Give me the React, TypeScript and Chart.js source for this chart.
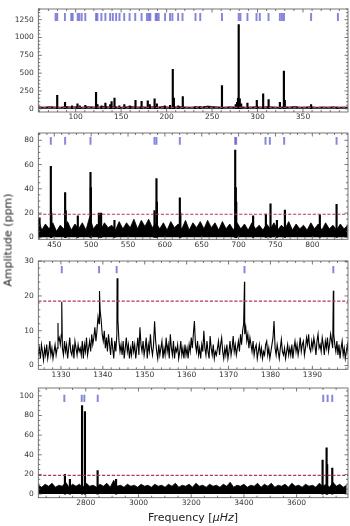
import React, { useEffect, useRef } from 'react';
import { Chart, registerables } from 'chart.js';

Chart.register(...registerables);

// ---------------- Panel 1 (60-400 µHz) ----------------
const P1_XTICKS = [100, 150, 200, 250, 300, 350];
const P1_YTICKS = [0, 250, 500, 750, 1000, 1250];
const P1_PEAKS: [number, number][] = [
  [79.7, 190], [88.3, 90], [96, 40], [102, 70], [104.5, 40], [110.6, 50], [122.4, 232], [124, 60],
  [128.5, 40], [132.7, 80], [138, 60], [139.5, 100], [142.7, 150], [148, 40], [153.5, 60], [159.5, 40],
  [165.8, 120], [172.5, 105], [179.3, 110], [181.5, 60], [186.8, 140], [189.3, 70], [198, 40], [203.8, 50],
  [206.8, 555], [208, 150], [212.7, 40], [217.8, 172], [231.5, 30], [237, 30], [260.9, 326],
  [276, 60], [277.5, 90], [278.5, 150], [279.3, 1180], [280.5, 140], [282, 70], [288.9, 80],
  [299.2, 120], [306.2, 210], [312.2, 130], [324.6, 90], [329, 528], [330, 120], [358.9, 60], [388, 25],
];
const P1_NOISE_START = 59;
const P1_NOISE_STEP = 6;
const P1_NOISE = [
  28, 22, 30, 25, 20, 32, 24, 27, 21, 30, 26, 22, 35, 24, 28, 20, 26, 31, 23, 27,
  22, 29, 25, 33, 21, 26, 30, 24, 22, 28, 25, 38, 30, 26, 22, 27, 24, 29, 21, 25,
  28, 23, 30, 26, 22, 27, 24, 31, 22, 25, 28, 20, 26, 23, 27, 21, 24, 22,
];
const P1_MARKERS = [
  77.9, 79.7, 88.2, 95.2, 96.7, 102.2, 104.0, 106.6, 110.6, 122.4, 123.9, 128.3, 132.7, 137.9,
  140.9, 144.5, 148.2, 153.4, 159.3, 165.5, 172.5, 178.4, 180.6, 182.1, 188.0, 189.4, 191.3,
  198.3, 203.8, 206.4, 212.7, 217.5, 231.8, 237.0, 260.9, 279.3, 281.2, 288.9, 298.9, 302.5,
  312.1, 324.6, 326.9, 329.1, 358.9, 388.4,
];
const P1_MARK_SPAN: [number, number] = [1237, 1338];
const P1_THRESHOLD = 20;

// ---------------- Panel 2 (430-850 µHz) ----------------
const P2_XTICKS = [450, 500, 550, 600, 650, 700, 750, 800];
const P2_YTICKS = [0, 20, 40, 60, 80];
const P2_PEAKS: [number, number][] = [
  [430, 16], [445.3, 58.6], [446, 20], [464.7, 36.8], [465.5, 22], [481.9, 17.8], [499.1, 53.6],
  [499.6, 41], [510.5, 20], [513.5, 20], [531.6, 14], [585.9, 22], [588.6, 48.5], [589.2, 29],
  [620.3, 32.5], [621, 20], [695.4, 72], [696.2, 41], [696.8, 29], [719.7, 17.8], [737, 19.2],
  [743.3, 27.7], [752, 14], [762.8, 22.4], [810.2, 18.6], [832.9, 27.2],
];
const P2_NOISE_START = 428;
const P2_NOISE_STEP = 5;
const P2_NOISE = [
  16, 6, 11, 7, 12, 5, 10, 7, 13, 6, 11,
  7, 12, 6, 17, 7, 11, 6, 12, 8, 10, 6,
  13, 7, 12, 8, 15, 7, 14, 9, 15, 8, 12,
  7, 12, 6, 13, 8, 11, 7, 14, 6, 12, 8,
  13, 7, 14, 8, 12, 6, 13, 7, 11, 6, 12,
  7, 11, 6, 12, 7, 10, 6, 11, 7, 12, 6,
  10, 7, 13, 6, 11, 7, 10, 6, 12, 7, 11,
  6, 12, 7, 10, 6, 11, 7, 10,
];
const P2_MARKERS = [445.3, 464.7, 499.1, 585.9, 588.6, 620.3, 695.4, 696.7, 736.5, 742.4, 761.8, 832.9];
const P2_MARK_SPAN: [number, number] = [76.5, 82.4];
const P2_THRESHOLD = 19;

// ---------------- Panel 3 (1325-1398 µHz) ----------------
const P3_XTICKS = [1330, 1340, 1350, 1360, 1370, 1380, 1390];
const P3_YTICKS = [0, 10, 20, 30];
const P3_NOISE_START = 1324.6;
const P3_NOISE_STEP = 0.25;
const P3_NOISE = [
  3, 5, 2, 6, 4, 1.5, 5, 3, 6, 2, 4, 7, 3, 5, 2, 4, 6, 3, 5, 7,
  8, 6, 9, 5, 3, 7, 4, 6, 2, 5, 8, 4, 3, 6, 2, 7, 5, 3, 6, 4,
  5, 3, 7, 2, 6, 4, 8, 3, 5, 7, 4, 9, 6, 8, 11, 7, 10, 14, 12, 16,
  13, 9, 7, 10, 5, 8, 4, 9, 6, 3, 8, 5, 2, 7, 4, 9, 13, 7, 4, 6,
  3, 7, 2, 5, 8, 4, 6, 2, 5, 3, 7, 4, 6, 2, 5, 8, 3, 11, 6, 4,
  7, 3, 5, 8, 2, 6, 4, 9, 5, 3, 6, 12.7, 7, 4, 2, 6, 3, 5, 7, 2,
  5, 3, 8, 4, 6, 2, 9, 5, 3, 7, 2, 5, 4, 6, 2, 4, 7, 3, 5, 2,
  6, 3, 5, 2, 6, 4, 8, 5, 9, 12.8, 6, 4, 7, 3, 5, 2, 6, 4, 10, 5,
  3, 7, 4, 2, 8.5, 5, 3, 6, 2, 4, 3, 5, 7, 3, 6, 8, 4, 2, 5, 3,
  6, 2, 4, 7, 3, 5, 8.5, 4, 6, 3, 5, 7, 4, 9, 6, 10, 12, 9, 11, 7,
  9, 5, 8, 6, 4, 7, 3, 5, 6, 2, 4, 6, 3, 5, 2, 4, 3, 6, 7, 3,
  5, 2, 4, 6, 8, 12.8, 5, 3, 6, 4, 2, 5, 7.5, 4, 3, 5, 2, 4, 6, 3,
  5, 3, 6, 2, 5, 7, 4, 6, 3, 5, 8, 4, 6, 7, 3, 5, 8, 6, 9, 5,
  4, 7, 5, 8, 6, 3, 7, 9, 5, 6, 4, 8, 6, 3, 7, 5, 8, 4, 6, 9,
  7, 5, 9, 6, 4, 7, 3, 6, 2, 5, 7, 3, 5, 2, 4, 6, 3, 5, 4, 3,
];
const P3_PEAKS: [number, number][] = [
  [1329.3, 12.2], [1330.2, 18.3], [1339.2, 21.4], [1343.4, 25.1], [1373.8, 24.1], [1395.0, 21.5],
];
const P3_MARKERS = [1330.2, 1339.1, 1343.3, 1373.8, 1395.0];
const P3_MARK_SPAN: [number, number] = [26.6, 28.5];
const P3_THRESHOLD = 18.5;

// ---------------- Panel 4 (2620-3795 µHz) ----------------
const P4_XTICKS = [2800, 3000, 3200, 3400, 3600];
const P4_YTICKS = [0, 20, 40, 60, 80, 100];
const P4_PEAKS: [number, number][] = [
  [2721, 20], [2740, 15], [2786, 90], [2797, 84], [2845, 24], [2915, 15],
  [3698.6, 34.5], [3713.8, 47], [3716, 30], [3735.3, 26.5],
];
const P4_NOISE_START = 2620;
const P4_NOISE_STEP = 13;
const P4_NOISE = [
  9, 7, 10, 8, 11, 7, 9, 8, 12, 7, 10,
  8, 10, 7, 11, 8, 9, 7, 10, 8, 11, 7,
  14, 8, 9, 7, 10, 8, 9, 7, 10, 8, 9,
  7, 10, 8, 9, 7, 10, 8, 11, 7, 9, 8,
  10, 7, 11, 8, 9, 7, 10, 8, 9, 7, 10,
  8, 12, 7, 9, 8, 10, 7, 9, 8, 11, 7,
  10, 8, 11, 7, 9, 8, 10, 7, 11, 8, 9,
  7, 10, 8, 9, 7, 11, 8, 10, 7, 12, 8,
  10, 7, 9,
];
const P4_MARKERS = [2718.8, 2784.8, 2794.7, 2845.5, 3701, 3717.7, 3735.2];
const P4_MARK_SPAN: [number, number] = [94.2, 100.8];
const P4_THRESHOLD = 19;

// ---------------- helpers ----------------
const FONT = 'DejaVu Sans';
const MARK_COLOR = 'rgba(95,95,205,0.75)';

const noiseDataset = (start: number, step: number, vals: number[]) => ({
  type: 'line',
  data: vals.map((v, i) => ({ x: start + i * step, y: v })),
  borderColor: '#000',
  backgroundColor: '#000',
  borderWidth: 0.8,
  fill: 'origin',
  pointRadius: 0,
  tension: 0,
  order: 3,
});

const peakDataset = (peaks: [number, number][]) => ({
  type: 'bar',
  data: peaks.map(([f, a]) => ({ x: f, y: a })),
  backgroundColor: '#000',
  barThickness: 1.5,
  grouped: false,
  order: 2,
});

const markerDataset = (freqs: number[], span: [number, number]) => ({
  type: 'bar',
  data: freqs.map((f) => ({ x: f, y: [span[0], span[1]] })),
  backgroundColor: MARK_COLOR,
  barThickness: 1.3,
  grouped: false,
  order: 1,
});

const decorPlugin = {
  id: 'decor',
  afterDatasetsDraw(chart: any, _args: any, o: any) {
    const { ctx, chartArea: a } = chart;
    const y = chart.scales.y.getPixelForValue(o.thr);
    ctx.save();
    ctx.beginPath();
    ctx.rect(a.left, a.top, a.right - a.left, a.bottom - a.top);
    ctx.clip();
    ctx.setLineDash([3.2, 1.7]);
    ctx.strokeStyle = '#b2385a';
    ctx.lineWidth = 1.1;
    ctx.beginPath();
    ctx.moveTo(a.left, y);
    ctx.lineTo(a.right, y);
    ctx.stroke();
    ctx.restore();
  },
  afterDraw(chart: any, _args: any, o: any) {
    const { ctx, chartArea: a, scales } = chart;
    const xs = scales.x;
    const ys = scales.y;
    ctx.save();
    ctx.strokeStyle = '#555';
    ctx.lineWidth = 0.8;
    ctx.strokeRect(a.left, a.top, a.right - a.left, a.bottom - a.top);
    ctx.beginPath();
    const tx = (v: number, len: number) => {
      const p = xs.getPixelForValue(v);
      ctx.moveTo(p, a.bottom);
      ctx.lineTo(p, a.bottom - len);
      ctx.moveTo(p, a.top);
      ctx.lineTo(p, a.top + len);
    };
    const ty = (v: number, len: number) => {
      const p = ys.getPixelForValue(v);
      ctx.moveTo(a.left, p);
      ctx.lineTo(a.left + len, p);
      ctx.moveTo(a.right, p);
      ctx.lineTo(a.right - len, p);
    };
    xs.ticks.forEach((t: any) => tx(t.value, 3.5));
    ys.ticks.forEach((t: any) => ty(t.value, 3.5));
    const minors = (scale: any, minor: number, major: number, fn: (v: number, l: number) => void) => {
      for (let k = Math.ceil(scale.min / minor); k * minor <= scale.max; k++) {
        const v = k * minor;
        const r = v / major;
        if (Math.abs(r - Math.round(r)) < 1e-6) continue;
        fn(v, 2);
      }
    };
    minors(xs, o.xMinor, o.xStep, tx);
    minors(ys, o.yMinor, o.yStep, ty);
    ctx.stroke();
    ctx.restore();
  },
};

type PanelCfg = {
  top: number;
  height: number;
  padTop: number;
  xAxisH: number;
  xMin: number;
  xMax: number;
  yMin: number;
  yMax: number;
  xTicks: number[];
  yTicks: number[];
  xMinor: number;
  yMinor: number;
  thr: number;
  datasets: any[];
};

function Panel({ cfg }: { cfg: PanelCfg }) {
  const ref = useRef<HTMLCanvasElement>(null);
  useEffect(() => {
    const tickFont = { family: FONT, size: 7.5 };
    const xStep = cfg.xTicks[1] - cfg.xTicks[0];
    const yStep = cfg.yTicks[1] - cfg.yTicks[0];
    const chart = new Chart(ref.current as HTMLCanvasElement, {
      type: 'line',
      data: { datasets: cfg.datasets as any },
      options: {
        animation: false,
        responsive: false,
        maintainAspectRatio: false,
        events: [],
        layout: { padding: { left: 0, right: 2, top: cfg.padTop, bottom: 0 } },
        plugins: {
          legend: { display: false },
          tooltip: { enabled: false },
          decor: { thr: cfg.thr, xMinor: cfg.xMinor, xStep, yMinor: cfg.yMinor, yStep },
        } as any,
        scales: {
          x: {
            type: 'linear',
            min: cfg.xMin,
            max: cfg.xMax,
            offset: false,
            grid: { display: false, drawTicks: false },
            border: { display: false },
            afterBuildTicks: (s: any) => {
              s.ticks = cfg.xTicks.map((v) => ({ value: v }));
            },
            ticks: {
              autoSkip: false,
              maxRotation: 0,
              minRotation: 0,
              padding: 1,
              color: '#333',
              font: tickFont,
              callback: (v: any) => String(v),
            },
            afterFit: (s: any) => {
              s.height = cfg.xAxisH;
            },
          },
          y: {
            type: 'linear',
            min: cfg.yMin,
            max: cfg.yMax,
            grid: { display: false, drawTicks: false },
            border: { display: false },
            afterBuildTicks: (s: any) => {
              s.ticks = cfg.yTicks.map((v) => ({ value: v }));
            },
            ticks: {
              autoSkip: false,
              padding: 4.5,
              color: '#333',
              font: tickFont,
              callback: (v: any) => String(v),
            },
            afterFit: (s: any) => {
              s.width = 38.3;
            },
          },
        },
      } as any,
      plugins: [decorPlugin as any],
    });
    return () => chart.destroy();
  }, []);
  return (
    <canvas
      ref={ref}
      width={350}
      height={cfg.height}
      style={{ position: 'absolute', left: 0, top: cfg.top, width: 350, height: cfg.height }}
    />
  );
}

const panel3Line = () => {
  const pts = P3_NOISE.map((v, i) => ({ x: P3_NOISE_START + i * P3_NOISE_STEP, y: v }));
  P3_PEAKS.forEach(([f, a]) => pts.push({ x: f, y: a }));
  pts.sort((p, q) => p.x - q.x);
  return {
    type: 'line',
    data: pts,
    borderColor: '#000',
    borderWidth: 1.1,
    fill: false,
    pointRadius: 0,
    tension: 0,
    order: 3,
  };
};

const PANELS: PanelCfg[] = [
  {
    top: 0, height: 126, padTop: 2, xAxisH: 14,
    xMin: 58.9, xMax: 399.5, yMin: -45, yMax: 1400,
    xTicks: P1_XTICKS, yTicks: P1_YTICKS, xMinor: 10, yMinor: 50, thr: P1_THRESHOLD,
    datasets: [
      noiseDataset(P1_NOISE_START, P1_NOISE_STEP, P1_NOISE),
      peakDataset(P1_PEAKS),
      markerDataset(P1_MARKERS, P1_MARK_SPAN),
    ],
  },
  {
    top: 124, height: 129, padTop: 5.7, xAxisH: 13.7,
    xMin: 428.3, xMax: 848.4, yMin: -1.6, yMax: 86,
    xTicks: P2_XTICKS, yTicks: P2_YTICKS, xMinor: 10, yMinor: 5, thr: P2_THRESHOLD,
    datasets: [
      noiseDataset(P2_NOISE_START, P2_NOISE_STEP, P2_NOISE),
      peakDataset(P2_PEAKS),
      markerDataset(P2_MARKERS, P2_MARK_SPAN),
    ],
  },
  {
    top: 252, height: 131, padTop: 6.3, xAxisH: 13.7,
    xMin: 1324.6, xMax: 1398.5, yMin: -1.1, yMax: 30.05,
    xTicks: P3_XTICKS, yTicks: P3_YTICKS, xMinor: 2, yMinor: 2, thr: P3_THRESHOLD,
    datasets: [panel3Line(), markerDataset(P3_MARKERS, P3_MARK_SPAN)],
  },
  {
    top: 379, height: 133, padTop: 6, xAxisH: 14.3,
    xMin: 2620, xMax: 3795, yMin: -3.7, yMax: 108,
    xTicks: P4_XTICKS, yTicks: P4_YTICKS, xMinor: 50, yMinor: 5, thr: P4_THRESHOLD,
    datasets: [
      noiseDataset(P4_NOISE_START, P4_NOISE_STEP, P4_NOISE),
      peakDataset(P4_PEAKS),
      markerDataset(P4_MARKERS, P4_MARK_SPAN),
    ],
  },
];

export default function App() {
  return (
    <div
      style={{
        position: 'fixed',
        left: 0,
        top: 0,
        width: 350,
        height: 526,
        background: '#fff',
        overflow: 'hidden',
      }}
    >
      {PANELS.map((p, i) => (
        <Panel key={i} cfg={p} />
      ))}
      <div
        style={{
          position: 'absolute',
          left: 8,
          top: 240,
          transform: 'translate(-50%, -50%) rotate(-90deg)',
          whiteSpace: 'nowrap',
          fontFamily: FONT,
          fontSize: 11,
          color: '#222',
        }}
      >
        Amplitude (ppm)
      </div>
      <div
        style={{
          position: 'absolute',
          left: 193,
          top: 517,
          transform: 'translate(-50%, -50%)',
          whiteSpace: 'nowrap',
          fontFamily: FONT,
          fontSize: 11,
          color: '#222',
        }}
      >
        Frequency [<i>μHz</i>]
      </div>
    </div>
  );
}
